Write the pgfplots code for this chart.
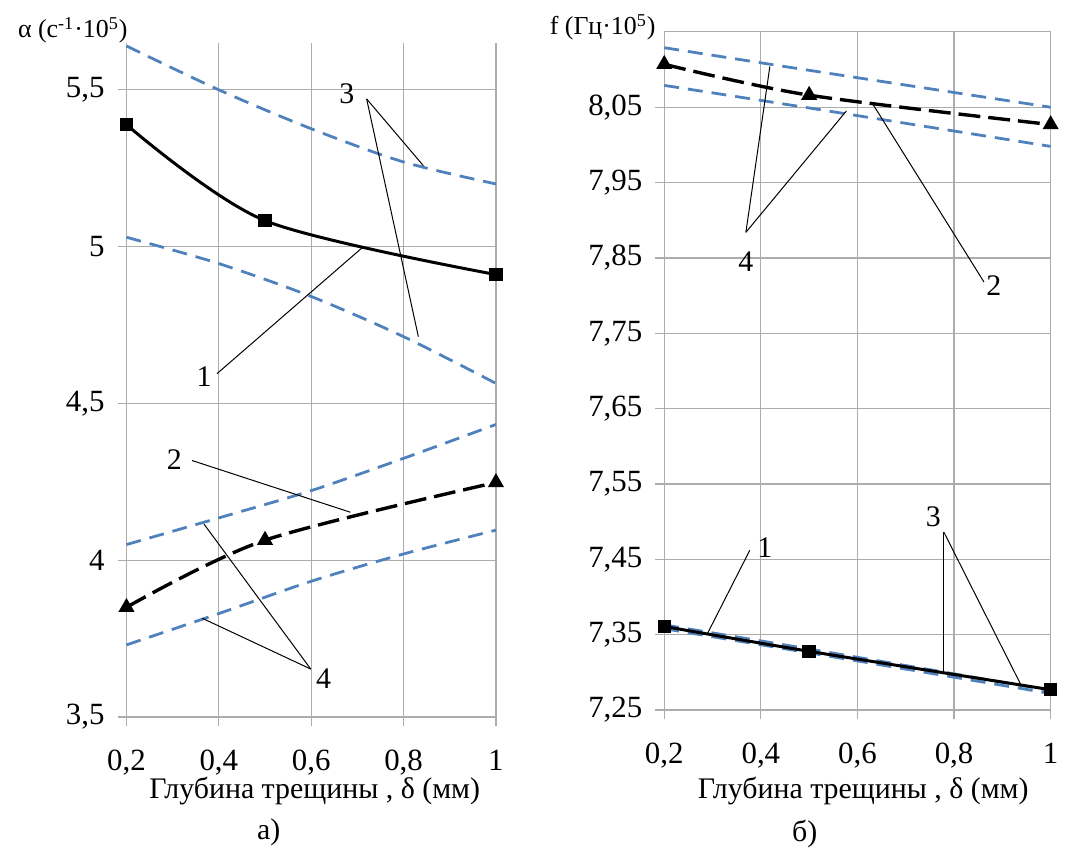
\documentclass[border=0pt]{standalone}
\usepackage{fontspec}
\setmainfont{Liberation Serif}
\usepackage{pgfplots}
\pgfplotsset{compat=1.18}

\definecolor{lineblue}{RGB}{79,129,189}

\pgfplotsset{
  panel/.style={
    scale only axis, clip=false,
    xmin=0.2, xmax=1,
    xtick={0.2,0.4,0.6,0.8,1},
    grid=major, grid style={gray!65, line width=0.6pt},
    axis lines*=left, axis line style={gray!65, line width=0.6pt},
    tick align=outside, major tick length=4.5pt,
    tick style={gray!65, line width=0.6pt},
    tick label style={font=\fontsize{15.5}{17}\selectfont},
    yticklabel style={xshift=-3pt},
    xticklabel style={yshift=-8.5pt},
  },
  s1/.style={black, line width=1.5pt, smooth, mark=square*, mark size=2.6pt},
  s2/.style={black, line width=1.7pt, dash pattern=on 11pt off 4pt, smooth,
    mark=triangle*, mark size=3pt, mark options={solid}},
  sb/.style={lineblue, line width=1.4pt, dash pattern=on 7.5pt off 4.5pt, smooth, no marks},
}
\tikzset{
  lead/.style={black, line width=0.5pt},
  num/.style={font=\fontsize{15}{17}\selectfont},
  lbl/.style={font=\fontsize{15}{17}\selectfont},
}

\begin{document}
\begin{tikzpicture}
% ---- а) затухание
\begin{axis}[panel,
  at={(0pt,0pt)}, anchor=south west,
  width=185.5pt, height=338.5pt,
  ymin=3.5, ymax=5.65,
  ytick={3.5,4,4.5,5,5.5},
  yticklabels={{3,5},4,{4,5},5,{5,5}},
  xticklabels={{0,2},{0,4},{0,6},{0,8},1},
]
\addplot[sb] coordinates {(0.2,5.64) (0.4,5.50) (0.6,5.376) (0.8,5.27) (1,5.20)};
\addplot[sb] coordinates {(0.2,5.03) (0.4,4.946) (0.6,4.841) (0.8,4.713) (1,4.564)};
\addplot[sb] coordinates {(0.2,4.05) (0.4,4.135) (0.6,4.222) (0.8,4.325) (1,4.433)};
\addplot[sb] coordinates {(0.2,3.73) (0.4,3.83) (0.6,3.933) (0.8,4.02) (1,4.096)};
\addplot[s1] coordinates {(0.2,5.389) (0.5,5.083) (1,4.911)};
\addplot[s2] coordinates {(0.2,3.85) (0.5,4.064) (1,4.248)};

\draw[lead] (axis cs:0.72,5.471) -- (axis cs:0.843,5.258);
\draw[lead] (axis cs:0.72,5.471) -- (axis cs:0.832,4.713);
\node[num] at (axis cs:0.677,5.487) {3};
\draw[lead] (axis cs:0.396,4.595) -- (axis cs:0.713,5.0);
\node[num] at (axis cs:0.368,4.586) {1};
\draw[lead] (axis cs:0.342,4.318) -- (axis cs:0.685,4.153);
\node[num] at (axis cs:0.3035,4.322) {2};
\draw[lead] (axis cs:0.599,3.653) -- (axis cs:0.368,4.115);
\draw[lead] (axis cs:0.599,3.653) -- (axis cs:0.364,3.815);
\node[num] at (axis cs:0.627,3.621) {4};

\node[anchor=west, font=\fontsize{13}{16}\selectfont] at (axis cs:-0.05,5.69)
  {α (с\textsuperscript{-1}·10\textsuperscript{5})};
\node[lbl] at (axis cs:0.6076,3.265) {Глубина трещины , δ (мм)};
\node[lbl] at (axis cs:0.508,3.133) {а)};
\end{axis}

% ---- б) частота
\begin{axis}[panel,
  at={(270pt,3.5pt)}, anchor=south west,
  width=194pt, height=340.5pt,
  ymin=7.25, ymax=8.15,
  ytick={7.25,7.35,7.45,7.55,7.65,7.75,7.85,7.95,8.05},
  yticklabels={{7,25},{7,35},{7,45},{7,55},{7,65},{7,75},{7,85},{7,95},{8,05}},
  xticklabels={{0,2},{0,4},{0,6},{0,8},1},
  extra y ticks={8.15}, extra y tick labels={},
  extra y tick style={major tick length=0pt},
]
\addplot[sb] coordinates {(0.2,8.129) (0.5,8.099) (1,8.05)};
\addplot[sb] coordinates {(0.2,8.079) (0.5,8.049) (1,7.998)};
\addplot[sb] coordinates {(0.2,7.363) (0.5,7.331) (1,7.276)};
\addplot[sb] coordinates {(0.2,7.358) (0.5,7.326) (1,7.272)};
\addplot[s1] coordinates {(0.2,7.361) (0.5,7.328) (1,7.277)};
\addplot[s2] coordinates {(0.2,8.107) (0.5,8.066) (1,8.027)};

\draw[lead] (axis cs:0.369,7.884) -- (axis cs:0.4186,8.104);
\draw[lead] (axis cs:0.369,7.884) -- (axis cs:0.577,8.045);
\node[num] at (axis cs:0.369,7.845) {4};
\draw[lead] (axis cs:0.862,7.818) -- (axis cs:0.629,8.057);
\node[num] at (axis cs:0.8825,7.813) {2};
\draw[lead] (axis cs:0.377,7.462) -- (axis cs:0.289,7.351);
\node[num] at (axis cs:0.408,7.466) {1};
\draw[lead] (axis cs:0.779,7.486) -- (axis cs:0.779,7.300);
\draw[lead] (axis cs:0.779,7.486) -- (axis cs:0.938,7.284);
\node[num] at (axis cs:0.757,7.506) {3};

\node[anchor=west, font=\fontsize{13}{16}\selectfont] at (axis cs:-0.0515,8.156)
  {f (Гц·10\textsuperscript{5})};
\node[lbl] at (axis cs:0.612,7.143) {Глубина трещины , δ (мм)};
\node[lbl] at (axis cs:0.491,7.085) {б)};
\end{axis}

\path (-63.5pt,-66.5pt) rectangle (469pt,360pt);
\end{tikzpicture}
\end{document}
